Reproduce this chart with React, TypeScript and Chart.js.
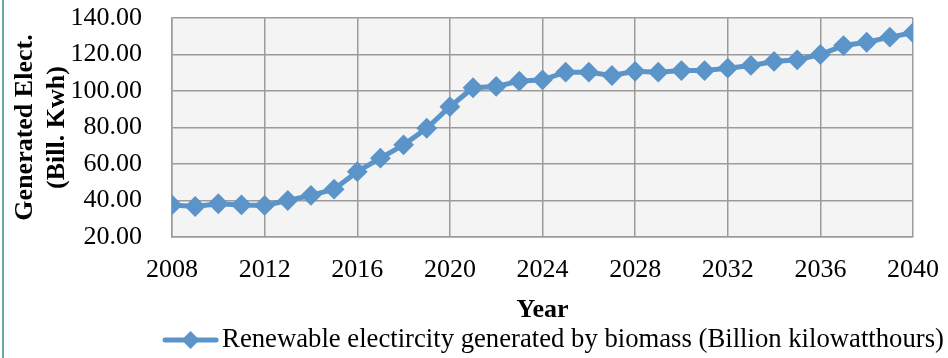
import { useEffect, useRef } from "react";
import { Chart, registerables } from "chart.js";

Chart.register(...registerables);

// Projection of renewable electricity generated by biomass
const years = [
  2008, 2009, 2010, 2011, 2012, 2013, 2014, 2015, 2016, 2017, 2018,
  2019, 2020, 2021, 2022, 2023, 2024, 2025, 2026, 2027, 2028, 2029,
  2030, 2031, 2032, 2033, 2034, 2035, 2036, 2037, 2038, 2039, 2040,
];
const biomass = [
  37.6, 36.7, 38.2, 37.6, 37.3, 40.0, 42.8, 46.2, 55.8, 63.2, 70.5,
  79.6, 91.4, 101.8, 102.5, 105.4, 106.1, 110.3, 110.3, 108.5, 110.8, 110.3,
  111.2, 111.2, 112.5, 114.0, 116.2, 117.1, 120.0, 124.9, 126.7, 129.5, 131.9,
];
const xTicks = [2008, 2012, 2016, 2020, 2024, 2028, 2032, 2036, 2040];
const yTicks = [20, 40, 60, 80, 100, 120, 140];

const seriesLabel = "Renewable electircity generated by biomass (Billion kilowatthours)";
const yTitle = ["Generated Elect.", "(Bill. Kwh)"];
const xTitle = "Year";

const SERIF = "'Liberation Serif', 'Times New Roman', serif";
const BLUE = "#5B94C9";
const GRID = "#9b9b9b";

// Light grey fill behind the plotting area
const plotBackground = {
  id: "plotBackground",
  beforeDraw(chart: any) {
    const { ctx, chartArea } = chart;
    ctx.save();
    ctx.fillStyle = "#f4f4f4";
    ctx.fillRect(chartArea.left, chartArea.top, chartArea.right - chartArea.left, chartArea.bottom - chartArea.top);
    ctx.restore();
  },
};

// Legend entry drawn as a line segment with a diamond marker, below the x axis
const lineLegend = {
  id: "lineLegend",
  afterDraw(chart: any) {
    const { ctx, chartArea } = chart;
    const ds = chart.data.datasets[0];
    const xScale = chart.scales.x;
    ctx.save();
    ctx.font = `26.7px ${SERIF}`;
    const textW = ctx.measureText(ds.label).width;
    const lineW = 55;
    const gap = 4;
    const total = lineW + gap + textW;
    const cx = (chartArea.left + chartArea.right) / 2 + 11;
    const x0 = cx - total / 2;
    const y = xScale.bottom + 14;
    ctx.strokeStyle = BLUE;
    ctx.lineWidth = 5;
    ctx.lineCap = "round";
    ctx.beginPath();
    ctx.moveTo(x0 + 2, y);
    ctx.lineTo(x0 + lineW - 2, y);
    ctx.stroke();
    const mx = x0 + lineW / 2;
    const r = 9;
    ctx.fillStyle = BLUE;
    ctx.beginPath();
    ctx.moveTo(mx - r, y);
    ctx.lineTo(mx, y - r);
    ctx.lineTo(mx + r, y);
    ctx.lineTo(mx, y + r);
    ctx.closePath();
    ctx.fill();
    ctx.fillStyle = "#000";
    ctx.textBaseline = "middle";
    ctx.textAlign = "left";
    ctx.fillText(ds.label, x0 + lineW + gap, y);
    ctx.restore();
  },
};

export default function App() {
  const canvasRef = useRef<HTMLCanvasElement | null>(null);

  useEffect(() => {
    const canvas = canvasRef.current;
    if (!canvas) return;
    const chart = new Chart(canvas, {
      type: "line",
      data: {
        datasets: [
          {
            label: seriesLabel,
            data: years.map((yr, i) => ({ x: yr, y: biomass[i] })),
            borderColor: BLUE,
            backgroundColor: BLUE,
            borderWidth: 5,
            pointStyle: "rectRot",
            pointRadius: 9,
            pointBorderWidth: 2,
            pointBorderColor: BLUE,
            pointBackgroundColor: BLUE,
            tension: 0,
          },
        ],
      },
      options: {
        responsive: false,
        animation: false,
        layout: { padding: { left: 8, right: 35, top: 18, bottom: 32 } },
        plugins: {
          legend: { display: false },
          tooltip: { enabled: false },
        },
        scales: {
          x: {
            type: "linear",
            min: 2008,
            max: 2040,
            afterBuildTicks: (scale: any) => {
              scale.ticks = xTicks.map((v) => ({ value: v }));
            },
            afterFit: (scale: any) => {
              scale.height = 89;
            },
            ticks: {
              color: "#000",
              font: { family: SERIF, size: 26 },
              padding: 0,
              maxRotation: 0,
              autoSkip: false,
              callback: (v: any) => String(v),
            },
            grid: { color: GRID, lineWidth: 1.5, drawTicks: true, tickLength: 18, tickColor: "rgba(0,0,0,0)" },
            border: { color: GRID, width: 1.5 },
            title: {
              display: true,
              text: xTitle,
              color: "#000",
              font: { family: SERIF, size: 26, weight: "bold" },
              padding: { top: 10, bottom: 0 },
            },
          },
          y: {
            min: 20,
            max: 140,
            afterBuildTicks: (scale: any) => {
              scale.ticks = yTicks.map((v) => ({ value: v }));
            },
            afterFit: (scale: any) => {
              scale.width = 164;
            },
            ticks: {
              color: "#000",
              font: { family: SERIF, size: 26 },
              padding: 0,
              autoSkip: false,
              callback: (v: any) => Number(v).toFixed(2),
            },
            grid: { color: GRID, lineWidth: 1.5, drawTicks: true, tickLength: 30, tickColor: "rgba(0,0,0,0)" },
            border: { color: GRID, width: 1.5 },
            title: {
              display: true,
              text: yTitle,
              color: "#000",
              font: { family: SERIF, size: 26, weight: "bold", lineHeight: 1.2 },
              padding: { top: 2, bottom: 0 },
            },
          },
        },
      },
      plugins: [plotBackground, lineLegend],
    });
    return () => chart.destroy();
  }, []);

  return (
    <div style={{ position: "fixed", left: 0, top: 0, width: 948, height: 358, background: "#fff" }}>
      <div style={{ position: "absolute", left: 2, top: 0, width: 2, height: 358, background: "#6aa8ae" }} />
      <canvas ref={canvasRef} width={948} height={358} style={{ display: "block" }} />
    </div>
  );
}
